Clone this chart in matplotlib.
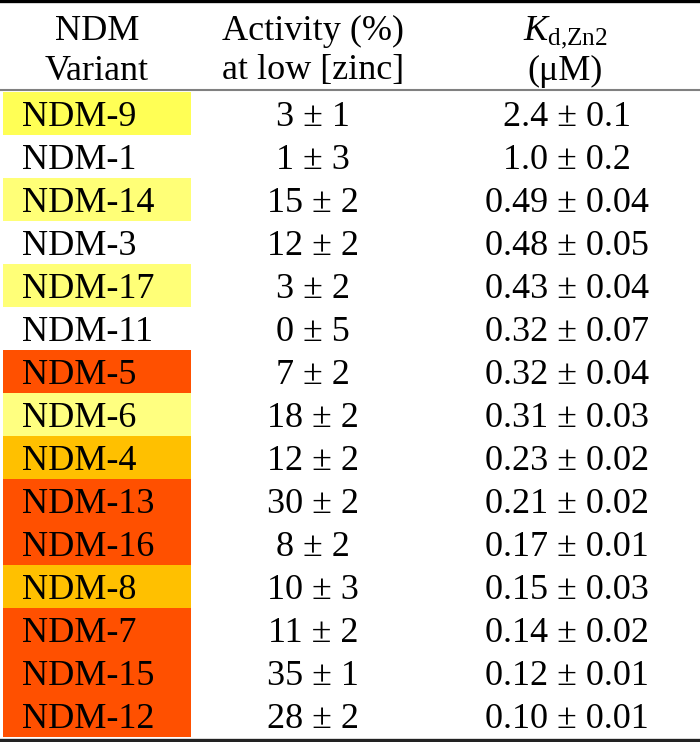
import matplotlib
matplotlib.use("Agg")
import matplotlib.pyplot as plt

plt.rcParams['font.family'] = ['Liberation Serif', 'DejaVu Serif']
plt.rcParams['mathtext.fontset'] = 'custom'
plt.rcParams['mathtext.rm'] = 'Liberation Serif'
plt.rcParams['mathtext.it'] = 'Liberation Serif:italic'

variants = ["NDM-9", "NDM-1", "NDM-14", "NDM-3", "NDM-17", "NDM-11", "NDM-5",
            "NDM-6", "NDM-4", "NDM-13", "NDM-16", "NDM-8", "NDM-7", "NDM-15", "NDM-12"]
activity = ["3 ± 1", "1 ± 3", "15 ± 2", "12 ± 2", "3 ± 2", "0 ± 5", "7 ± 2",
            "18 ± 2", "12 ± 2", "30 ± 2", "8 ± 2", "10 ± 3", "11 ± 2", "35 ± 1", "28 ± 2"]
kd = ["2.4 ± 0.1", "1.0 ± 0.2", "0.49 ± 0.04", "0.48 ± 0.05", "0.43 ± 0.04",
      "0.32 ± 0.07", "0.32 ± 0.04", "0.31 ± 0.03", "0.23 ± 0.02", "0.21 ± 0.02",
      "0.17 ± 0.01", "0.15 ± 0.03", "0.14 ± 0.02", "0.12 ± 0.01", "0.10 ± 0.01"]
# highlight colour of each variant cell (None = no fill)
cell_colors = ["#FFFF55", None, "#FFFF77", None, "#FFFF77", None, "#FF5000",
               "#FFFF80", "#FFC000", "#FF5000", "#FF5000", "#FFC000", "#FF5000",
               "#FF5000", "#FF5000"]

# pixel layout: first row starts at y=92, rows are 43 px tall
top, pitch = 92, 43
fs = 26


def py(y):
    # pixel y -> row coordinate
    return (y - top) / pitch - 0.5


fig = plt.figure(figsize=(7, 7.42), dpi=100)
ax = fig.add_axes([0, 0, 1, 1])
ax.set_xlim(0, 700)
ax.set_ylim(py(742), py(0))
ax.axis("off")

rows = list(range(len(variants)))
for i in rows:
    if cell_colors[i]:
        ax.barh(i, 188, left=3, height=1.0, color=cell_colors[i], linewidth=0)
    ax.text(22, i, variants[i], fontsize=fs, ha="left", va="center_baseline")
    ax.text(313, i, activity[i], fontsize=fs, ha="center", va="center_baseline")
    ax.text(567, i, kd[i], fontsize=fs, ha="center", va="center_baseline")

# header
ax.text(97, py(27), "NDM", fontsize=fs, ha="center", va="center_baseline")
ax.text(97, py(67), "Variant", fontsize=fs, ha="center", va="center_baseline")
ax.text(313, py(27), "Activity (%)", fontsize=fs, ha="center", va="center_baseline")
ax.text(313, py(67), "at low [zinc]", fontsize=fs, ha="center", va="center_baseline")
ax.text(565, py(27), r"$K_{\mathrm{d{,}Zn2}}$", fontsize=fs, ha="center", va="center_baseline")
ax.text(565, py(67), "(μM)", fontsize=fs, ha="center", va="center_baseline")

# rules
ax.axhline(py(1.5), color="black", linewidth=2.4)
ax.axhline(py(90), color="#808080", linewidth=1.5)
ax.axhline(py(739.5), color="#222222", linewidth=2.4)

fig.savefig("out.png", dpi=100)
